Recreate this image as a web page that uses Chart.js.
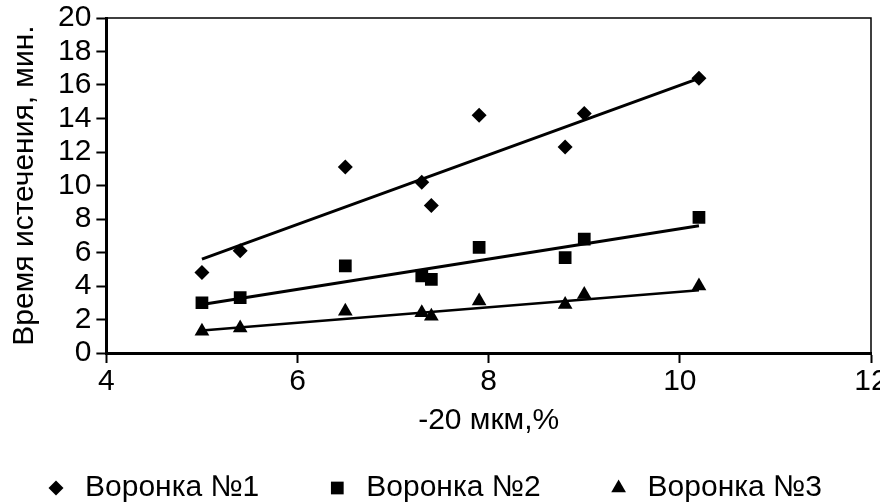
<!DOCTYPE html>
<html>
<head>
<meta charset="utf-8">
<script src="https://cdn.jsdelivr.net/npm/chart.js@4"></script>
<style>
  html, body { margin: 0; padding: 0; background: #fff; }
</style>
</head>
<body>
<canvas id="flowchart" width="880" height="503"></canvas>
<script>
var FONT = "'Liberation Sans', Arial, sans-serif";

// -20 мкм, %
var fines1 = [5.0, 5.4, 6.5, 7.3, 7.4, 7.9, 8.8, 9.0, 10.2];
var fines2 = [5.0, 5.4, 6.5, 7.3, 7.4, 7.9, 8.8, 9.0, 10.2];
var fines3 = [5.0, 5.4, 6.5, 7.3, 7.4, 7.9, 8.8, 9.0, 10.2];

// время истечения, мин
var time1 = [4.8, 6.1, 11.1, 10.2, 8.8, 14.2, 12.3, 14.3, 16.4];
var time2 = [3.0, 3.3, 5.2, 4.6, 4.4, 6.3, 5.7, 6.8, 8.1];
var time3 = [1.3, 1.5, 2.5, 2.4, 2.2, 3.1, 2.9, 3.5, 4.0];

// линии тренда (концы)
var trendX = [5.0, 10.2];
var trend1 = [5.6, 16.4];
var trend2 = [2.9, 7.6];
var trend3 = [1.35, 3.75];

var seriesNames = ["Воронка №1", "Воронка №2", "Воронка №3"];
var xTicks = [4, 6, 8, 10, 12];

function pts(xs, ys) {
    return xs.map(function (x, i) { return { x: x, y: ys[i] }; });
}

// thin frame on top and right of the plot
var plotFrame = {
    id: "plotFrame",
    afterDatasetsDraw: function (chart) {
        var a = chart.chartArea, ctx = chart.ctx;
        ctx.save();
        ctx.strokeStyle = "#000";
        ctx.lineWidth = 1.5;
        ctx.beginPath();
        ctx.moveTo(a.left, a.top);
        ctx.lineTo(a.right, a.top);
        ctx.lineTo(a.right, a.bottom);
        ctx.stroke();
        ctx.restore();
    }
};

// legend row under the chart, spread like in the original
var bottomLegend = {
    id: "bottomLegend",
    afterDraw: function (chart) {
        var ctx = chart.ctx;
        var x = 56, y = 488;
        ctx.save();
        ctx.font = "30px " + FONT;
        ctx.textBaseline = "middle";
        chart.data.datasets.slice(0, 3).forEach(function (ds) {
            ctx.fillStyle = "#000";
            ctx.strokeStyle = "#000";
            Chart.helpers.drawPoint(ctx, { pointStyle: ds.pointStyle, radius: ds.pointRadius, rotation: 0, borderWidth: 0 }, x, y);
            ctx.fillText(ds.label, x + 29, y);
            x += 29 + ctx.measureText(ds.label).width + 78;
        });
        ctx.restore();
    }
};

new Chart(document.getElementById("flowchart"), {
    "type": "scatter",
    "data": {
        "datasets": [{
            "label": seriesNames[0],
            "data": pts(fines1, time1),
            "pointStyle": "rectRot",
            "pointRadius": 7.5,
            "backgroundColor": "#000",
            "borderColor": "#000",
            "borderWidth": 0
        }, {
            "label": seriesNames[1],
            "data": pts(fines2, time2),
            "pointStyle": "rect",
            "pointRadius": 9,
            "backgroundColor": "#000",
            "borderColor": "#000",
            "borderWidth": 0
        }, {
            "label": seriesNames[2],
            "data": pts(fines3, time3),
            "pointStyle": "triangle",
            "pointRadius": 8.5,
            "backgroundColor": "#000",
            "borderColor": "#000",
            "borderWidth": 0
        }, {
            "label": "trend1",
            "type": "line",
            "data": pts(trendX, trend1),
            "borderColor": "#000",
            "borderWidth": 3,
            "pointRadius": 0,
            "fill": false
        }, {
            "label": "trend2",
            "type": "line",
            "data": pts(trendX, trend2),
            "borderColor": "#000",
            "borderWidth": 3,
            "pointRadius": 0,
            "fill": false
        }, {
            "label": "trend3",
            "type": "line",
            "data": pts(trendX, trend3),
            "borderColor": "#000",
            "borderWidth": 2.5,
            "pointRadius": 0,
            "fill": false
        }]
    },
    "options": {
        responsive: false,
        animation: false,
        layout: { padding: { top: 18, right: 7, left: 0, bottom: 62 } },
        scales: {
            x: {
                type: "linear",
                min: 4, max: 12,
                afterBuildTicks: function (s) { s.ticks = xTicks.map(function (v) { return { value: v }; }); },
                afterFit: function (s) { s.paddingRight = 0; },
                grid: { drawOnChartArea: false, drawTicks: true, tickLength: 10, tickColor: "#000", tickWidth: 2 },
                border: { color: "#000", width: 3 },
                ticks: { color: "#000", font: { family: FONT, size: 30 }, padding: 1, maxRotation: 0, autoSkip: false },
                title: { display: true, text: "-20 мкм,%", color: "#000", font: { family: FONT, size: 30 }, padding: { top: 2, bottom: 2 } }
            },
            y: {
                min: 0, max: 20,
                afterFit: function (s) { s.paddingTop = 0; s.paddingBottom = 0; },
                ticks: { stepSize: 2, color: "#000", font: { family: FONT, size: 30 }, padding: 5, autoSkip: false },
                grid: { drawOnChartArea: false, drawTicks: true, tickLength: 10, tickColor: "#000", tickWidth: 2 },
                border: { color: "#000", width: 3 },
                title: { display: true, text: "Время истечения, мин.", color: "#000", font: { family: FONT, size: 30 }, padding: { top: 7, bottom: 10 } }
            }
        },
        plugins: {
            tooltip: { enabled: false },
            legend: { display: false }
        }
    },
    plugins: [plotFrame, bottomLegend]
});
</script>
</body>
</html>
